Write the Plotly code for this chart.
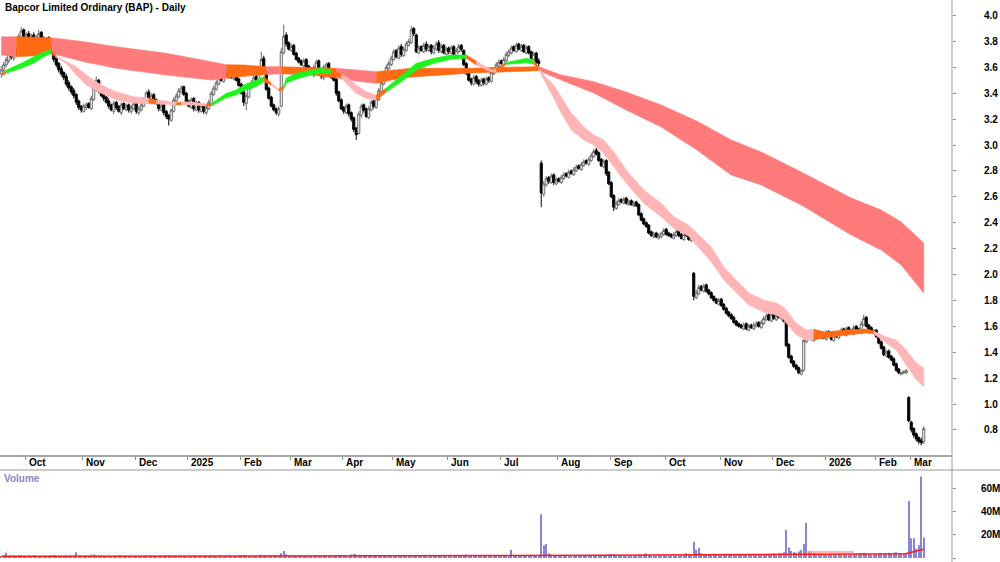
import plotly.graph_objects as go

# ---------------- data ----------------
title_text = "Bapcor Limited Ordinary (BAP) - Daily"

close_ = [
3.58,3.62,3.66,3.70,3.68,3.72,3.71,3.84,3.88,3.82,
3.85,3.80,3.84,3.78,3.83,3.86,3.81,3.79,3.82,3.76,
3.72,3.66,3.62,3.58,3.55,3.52,3.47,3.44,3.41,3.38,
3.33,3.29,3.27,3.30,3.31,3.29,3.36,3.44,3.50,3.42,
3.38,3.36,3.33,3.30,3.27,3.32,3.29,3.26,3.31,3.28,
3.30,3.27,3.29,3.32,3.26,3.28,3.31,3.35,3.40,3.36,
3.38,3.34,3.32,3.28,3.30,3.25,3.22,3.20,3.27,3.35,
3.38,3.42,3.44,3.39,3.33,3.30,3.35,3.28,3.32,3.27,
3.30,3.26,3.29,3.33,3.40,3.44,3.48,3.52,3.50,3.55,
3.53,3.57,3.52,3.55,3.50,3.46,3.40,3.33,3.38,3.45,
3.48,3.52,3.50,3.56,3.66,3.58,3.43,3.36,3.30,3.27,
3.25,3.28,3.72,3.84,3.78,3.74,3.76,3.70,3.66,3.64,
3.62,3.65,3.60,3.58,3.55,3.60,3.64,3.57,3.53,3.60,
3.62,3.56,3.52,3.50,3.40,3.34,3.28,3.26,3.30,3.24,
3.20,3.12,3.08,3.24,3.30,3.27,3.22,3.28,3.33,3.30,
3.36,3.42,3.48,3.55,3.60,3.63,3.67,3.72,3.68,3.75,
3.70,3.74,3.78,3.80,3.89,3.86,3.72,3.75,3.73,3.77,
3.74,3.76,3.72,3.75,3.78,3.73,3.76,3.71,3.74,3.72,
3.75,3.70,3.73,3.76,3.74,3.62,3.55,3.50,3.48,3.52,
3.49,3.47,3.50,3.48,3.51,3.50,3.56,3.58,3.62,3.64,
3.63,3.66,3.70,3.72,3.75,3.73,3.77,3.74,3.76,3.72,
3.75,3.71,3.67,3.70,3.64,3.63,2.63,2.70,2.74,2.72,
2.76,2.71,2.73,2.72,2.75,2.77,2.76,2.79,2.78,2.81,
2.83,2.82,2.85,2.87,2.86,2.89,2.92,2.95,2.93,2.88,
2.84,2.87,2.78,2.70,2.60,2.52,2.55,2.57,2.56,2.58,
2.55,2.56,2.54,2.55,2.53,2.46,2.42,2.39,2.37,2.32,
2.30,2.31,2.29,2.30,2.32,2.34,2.31,2.30,2.29,2.31,
2.33,2.30,2.28,2.31,2.30,2.27,2.29,1.83,1.86,1.90,
1.88,1.91,1.87,1.85,1.82,1.80,1.78,1.80,1.76,1.73,
1.70,1.68,1.66,1.63,1.61,1.60,1.59,1.61,1.58,1.60,
1.59,1.61,1.62,1.60,1.63,1.66,1.68,1.65,1.69,1.66,
1.68,1.67,1.70,1.64,1.45,1.36,1.32,1.29,1.27,1.24,
1.26,1.49,1.51,1.53,1.50,1.52,1.55,1.52,1.54,1.51,
1.55,1.53,1.50,1.54,1.52,1.55,1.57,1.54,1.58,1.56,
1.55,1.59,1.57,1.56,1.62,1.66,1.60,1.58,1.56,1.57,
1.52,1.47,1.43,1.38,1.40,1.36,1.34,1.30,1.26,1.24,
1.24,1.25,1.26,0.87,0.80,0.76,0.73,0.71,0.70,0.81]

open_ = [
3.55,3.58,3.62,3.65,3.71,3.67,3.73,3.72,3.83,3.89,
3.81,3.86,3.79,3.85,3.77,3.82,3.87,3.82,3.78,3.83,
3.77,3.73,3.67,3.63,3.59,3.56,3.53,3.48,3.45,3.42,
3.39,3.34,3.30,3.26,3.29,3.32,3.28,3.35,3.43,3.50,
3.43,3.39,3.37,3.34,3.31,3.26,3.33,3.30,3.25,3.32,
3.27,3.31,3.26,3.28,3.33,3.25,3.27,3.30,3.34,3.41,
3.35,3.39,3.35,3.33,3.27,3.31,3.26,3.23,3.19,3.26,
3.34,3.37,3.41,3.45,3.40,3.34,3.29,3.36,3.27,3.33,
3.26,3.31,3.25,3.28,3.32,3.39,3.43,3.47,3.53,3.49,
3.56,3.52,3.58,3.51,3.56,3.51,3.47,3.41,3.32,3.37,
3.44,3.47,3.53,3.49,3.55,3.67,3.57,3.44,3.37,3.31,
3.28,3.24,3.30,3.71,3.85,3.79,3.73,3.77,3.71,3.67,
3.65,3.61,3.66,3.61,3.59,3.54,3.59,3.65,3.58,3.52,
3.59,3.63,3.57,3.53,3.51,3.41,3.35,3.29,3.25,3.31,
3.25,3.21,3.13,3.09,3.23,3.31,3.28,3.21,3.27,3.34,
3.29,3.35,3.41,3.47,3.54,3.59,3.62,3.66,3.73,3.67,
3.76,3.69,3.73,3.77,3.79,3.90,3.85,3.71,3.76,3.72,
3.78,3.73,3.77,3.71,3.74,3.79,3.72,3.77,3.70,3.75,
3.71,3.76,3.69,3.72,3.77,3.73,3.63,3.56,3.51,3.47,
3.53,3.50,3.46,3.51,3.47,3.52,3.49,3.55,3.57,3.61,
3.65,3.62,3.65,3.69,3.71,3.76,3.72,3.78,3.73,3.77,
3.71,3.76,3.72,3.66,3.71,3.65,2.86,2.62,2.69,2.75,
2.71,2.77,2.70,2.74,2.71,2.74,2.78,2.75,2.80,2.77,
2.80,2.84,2.81,2.84,2.88,2.85,2.88,2.91,2.96,2.94,
2.89,2.83,2.88,2.79,2.71,2.61,2.51,2.54,2.58,2.55,
2.59,2.54,2.57,2.53,2.56,2.54,2.47,2.43,2.40,2.38,
2.33,2.29,2.32,2.28,2.29,2.31,2.35,2.32,2.31,2.28,
2.30,2.34,2.31,2.27,2.32,2.31,2.26,2.01,1.82,1.85,
1.91,1.87,1.92,1.88,1.86,1.83,1.81,1.77,1.81,1.77,
1.74,1.71,1.69,1.67,1.64,1.62,1.61,1.58,1.62,1.57,
1.61,1.58,1.60,1.63,1.59,1.62,1.65,1.69,1.64,1.70,
1.65,1.69,1.66,1.71,1.63,1.46,1.37,1.33,1.30,1.28,
1.23,1.26,1.48,1.50,1.54,1.49,1.51,1.56,1.51,1.55,
1.50,1.56,1.54,1.49,1.55,1.51,1.54,1.58,1.53,1.59,
1.57,1.54,1.60,1.58,1.55,1.61,1.67,1.61,1.59,1.55,
1.57,1.53,1.48,1.44,1.37,1.41,1.37,1.35,1.31,1.27,
1.23,1.24,1.24,1.05,0.86,0.81,0.77,0.74,0.72,0.71]

high_ = [
3.61,3.64,3.68,3.72,3.73,3.74,3.75,3.86,3.91,3.90,
3.87,3.88,3.86,3.87,3.85,3.89,3.88,3.84,3.83,3.84,
3.79,3.74,3.69,3.64,3.61,3.57,3.55,3.50,3.46,3.44,
3.40,3.35,3.31,3.32,3.33,3.33,3.38,3.46,3.53,3.51,
3.44,3.40,3.38,3.36,3.32,3.34,3.34,3.31,3.33,3.33,
3.32,3.32,3.31,3.34,3.34,3.30,3.33,3.37,3.42,3.43,
3.40,3.40,3.36,3.34,3.32,3.32,3.27,3.24,3.28,3.37,
3.40,3.44,3.46,3.46,3.41,3.35,3.37,3.37,3.34,3.34,
3.32,3.32,3.31,3.35,3.42,3.46,3.50,3.54,3.54,3.57,
3.57,3.59,3.59,3.57,3.57,3.52,3.48,3.42,3.40,3.47,
3.50,3.54,3.54,3.58,3.72,3.69,3.58,3.45,3.38,3.32,
3.29,3.30,3.75,3.93,3.87,3.80,3.78,3.78,3.72,3.68,
3.66,3.67,3.67,3.62,3.60,3.62,3.66,3.66,3.59,3.62,
3.64,3.64,3.58,3.54,3.52,3.42,3.36,3.30,3.32,3.32,
3.26,3.22,3.14,3.26,3.32,3.32,3.29,3.30,3.35,3.35,
3.38,3.44,3.50,3.57,3.62,3.65,3.69,3.74,3.74,3.77,
3.78,3.76,3.80,3.82,3.92,3.91,3.86,3.77,3.77,3.79,
3.80,3.78,3.78,3.77,3.80,3.81,3.78,3.78,3.76,3.76,
3.77,3.77,3.75,3.78,3.78,3.74,3.64,3.57,3.52,3.54,
3.54,3.51,3.52,3.52,3.53,3.53,3.58,3.60,3.64,3.66,
3.66,3.68,3.72,3.74,3.77,3.77,3.79,3.79,3.78,3.78,
3.77,3.77,3.73,3.72,3.72,3.67,2.88,2.72,2.76,2.76,
2.78,2.78,2.75,2.75,2.77,2.79,2.79,2.81,2.81,2.83,
2.85,2.85,2.87,2.89,2.89,2.91,2.94,2.97,2.98,2.95,
2.90,2.89,2.89,2.80,2.72,2.62,2.57,2.59,2.59,2.60,
2.60,2.58,2.58,2.57,2.57,2.55,2.48,2.44,2.41,2.39,
2.34,2.33,2.33,2.32,2.33,2.36,2.36,2.33,2.32,2.33,
2.35,2.35,2.32,2.33,2.33,2.32,2.31,2.02,1.88,1.92,
1.92,1.93,1.93,1.89,1.87,1.84,1.82,1.82,1.82,1.78,
1.75,1.72,1.70,1.68,1.65,1.63,1.62,1.63,1.63,1.62,
1.62,1.63,1.64,1.64,1.65,1.68,1.70,1.70,1.71,1.71,
1.70,1.70,1.72,1.72,1.64,1.47,1.38,1.34,1.31,1.29,
1.27,1.50,1.53,1.55,1.55,1.54,1.56,1.57,1.56,1.56,
1.57,1.57,1.55,1.56,1.56,1.57,1.59,1.59,1.60,1.60,
1.58,1.61,1.61,1.59,1.64,1.69,1.68,1.62,1.60,1.58,
1.58,1.54,1.49,1.45,1.42,1.42,1.38,1.36,1.32,1.28,
1.25,1.26,1.27,1.06,0.87,0.82,0.78,0.75,0.74,0.83]

low_ = [
3.52,3.56,3.60,3.63,3.66,3.65,3.69,3.70,3.81,3.80,
3.79,3.78,3.77,3.76,3.75,3.80,3.79,3.77,3.76,3.74,
3.70,3.64,3.60,3.56,3.53,3.50,3.45,3.42,3.39,3.36,
3.31,3.27,3.25,3.25,3.27,3.28,3.27,3.34,3.41,3.40,
3.37,3.34,3.32,3.28,3.26,3.24,3.27,3.25,3.23,3.27,
3.26,3.25,3.24,3.27,3.24,3.23,3.26,3.29,3.33,3.35,
3.34,3.33,3.31,3.26,3.26,3.23,3.20,3.15,3.18,3.25,
3.33,3.36,3.40,3.38,3.32,3.29,3.28,3.26,3.26,3.25,
3.25,3.24,3.23,3.27,3.31,3.38,3.42,3.46,3.49,3.48,
3.52,3.51,3.51,3.50,3.49,3.45,3.39,3.30,3.27,3.36,
3.43,3.46,3.49,3.48,3.54,3.57,3.42,3.35,3.29,3.26,
3.23,3.22,3.29,3.70,3.76,3.73,3.72,3.69,3.65,3.63,
3.61,3.60,3.59,3.57,3.54,3.52,3.58,3.56,3.51,3.50,
3.58,3.55,3.51,3.49,3.38,3.33,3.27,3.24,3.24,3.22,
3.18,3.10,3.04,3.08,3.21,3.25,3.21,3.20,3.26,3.28,
3.28,3.34,3.40,3.46,3.53,3.58,3.61,3.65,3.67,3.66,
3.68,3.68,3.72,3.76,3.78,3.84,3.71,3.70,3.72,3.71,
3.72,3.72,3.70,3.70,3.73,3.71,3.71,3.70,3.69,3.70,
3.70,3.69,3.68,3.71,3.72,3.61,3.54,3.49,3.46,3.46,
3.47,3.45,3.45,3.46,3.46,3.48,3.48,3.54,3.56,3.60,
3.62,3.61,3.64,3.68,3.70,3.72,3.71,3.73,3.72,3.71,
3.70,3.70,3.66,3.65,3.62,3.61,2.52,2.60,2.68,2.70,
2.70,2.69,2.69,2.71,2.70,2.73,2.75,2.74,2.77,2.76,
2.79,2.81,2.80,2.83,2.85,2.84,2.87,2.90,2.92,2.87,
2.83,2.82,2.76,2.69,2.59,2.49,2.50,2.53,2.55,2.54,
2.54,2.53,2.53,2.52,2.52,2.45,2.41,2.38,2.36,2.31,
2.29,2.28,2.28,2.27,2.28,2.30,2.30,2.29,2.28,2.27,
2.29,2.29,2.27,2.26,2.29,2.26,2.25,1.80,1.81,1.84,
1.87,1.86,1.86,1.84,1.81,1.79,1.77,1.76,1.75,1.72,
1.69,1.67,1.65,1.62,1.60,1.59,1.58,1.57,1.57,1.56,
1.58,1.57,1.59,1.59,1.58,1.61,1.64,1.64,1.63,1.65,
1.64,1.66,1.65,1.63,1.44,1.35,1.31,1.28,1.26,1.23,
1.22,1.25,1.47,1.49,1.49,1.48,1.50,1.51,1.50,1.50,
1.49,1.52,1.49,1.48,1.51,1.50,1.53,1.53,1.52,1.55,
1.54,1.53,1.56,1.55,1.54,1.60,1.59,1.57,1.55,1.54,
1.51,1.46,1.42,1.37,1.36,1.35,1.33,1.29,1.25,1.23,
1.22,1.23,1.23,0.86,0.78,0.74,0.71,0.69,0.68,0.69]

volume_m = [
1.8,2.1,4.5,1.6,1.9,2.2,1.7,2.4,2.0,1.5,
1.6,1.9,1.4,2.3,1.7,1.5,1.8,2.0,1.3,1.6,
2.2,2.6,1.9,1.7,2.0,1.8,2.3,1.6,1.9,2.1,
5.0,1.8,1.5,1.7,2.0,1.6,2.8,3.0,2.2,1.9,
1.5,1.7,1.4,1.8,1.6,1.3,1.5,1.9,1.4,1.6,
1.2,1.5,1.7,1.3,1.6,1.4,1.2,1.8,2.1,1.5,
1.3,1.6,1.4,1.5,1.2,1.7,1.9,2.4,1.8,2.0,
1.6,1.4,1.5,1.3,1.7,1.2,1.1,1.4,1.3,1.0,
1.2,1.5,1.3,1.6,2.0,1.8,1.7,1.9,1.5,1.6,
1.4,1.8,1.5,1.7,1.6,1.9,2.2,2.6,2.0,1.8,
1.5,1.7,1.6,1.9,2.8,2.3,2.5,2.1,2.4,1.9,
2.2,2.0,4.0,6.0,3.2,2.4,2.0,1.9,1.7,1.6,
1.8,1.5,1.7,1.6,1.9,1.4,1.6,1.8,1.5,1.7,
1.6,1.9,1.7,1.8,2.6,2.3,2.0,2.2,2.4,2.6,
2.9,3.4,3.1,2.7,2.2,1.9,2.0,1.7,1.8,1.6,
1.9,2.1,2.0,2.3,1.8,1.7,1.9,2.0,1.6,1.8,
1.5,1.7,1.9,1.6,2.5,2.0,1.8,1.7,1.5,1.6,
1.4,1.6,1.5,1.7,1.8,1.4,1.6,1.5,1.3,1.7,
1.5,1.6,1.4,1.8,1.6,2.6,2.9,2.0,1.8,1.6,
1.5,1.7,1.4,1.6,1.5,1.3,1.6,1.8,1.7,1.9,
1.6,1.8,2.0,2.2,7.0,1.9,1.7,1.8,1.6,1.5,
1.7,1.6,1.9,2.0,2.2,2.4,37.5,11.0,12.0,4.0,
3.0,2.6,2.4,2.2,2.0,2.3,1.9,2.1,1.8,2.0,
1.7,1.9,2.1,1.8,2.0,2.2,2.4,2.6,2.3,2.8,
2.5,2.2,2.7,3.0,3.5,3.2,2.6,2.3,2.1,2.4,
2.0,1.9,2.2,2.0,2.3,2.8,2.6,3.0,4.0,2.7,
2.4,2.2,2.0,2.3,2.1,2.5,2.2,2.0,2.4,2.1,
2.3,2.0,2.2,2.4,4.0,2.6,2.9,14.0,7.0,8.5,
4.0,3.2,3.0,2.8,3.1,2.7,2.9,2.6,3.0,2.8,
2.6,3.0,2.7,2.9,2.5,2.8,2.6,3.1,2.7,2.9,
2.5,2.7,2.9,2.6,3.0,3.2,2.8,3.4,3.6,4.0,
3.5,3.8,4.2,5.0,24.0,9.0,6.0,5.0,4.5,5.5,
7.0,12.0,30.3,6.0,4.5,4.0,3.6,3.8,3.3,3.5,
3.2,3.0,3.4,3.1,2.9,3.3,3.0,2.8,3.2,3.0,
2.7,3.1,2.9,3.3,4.0,4.5,3.6,3.2,3.0,2.9,
3.4,3.8,4.2,3.6,3.9,4.4,4.1,4.6,5.0,4.3,
3.8,4.0,4.5,49.0,17.0,17.0,8.0,11.0,70.0,17.5]

# volume average line, read at a few bars (millions)
vol_ma_bar = [0, 60, 120, 180, 215, 240, 280, 300, 321, 342, 362, 364, 366, 369]
vol_ma_m   = [1.4, 1.5, 1.6, 1.6, 1.7, 2.3, 2.8, 3.0, 3.3, 3.4, 3.6, 5.0, 5.8, 7.5]
# lighter raised average segment (Dec-Jan)
vol_ma2_bar = [322, 341]
vol_ma2_m   = [5.2, 5.2]

# long-term moving-average band (edges), bar index
long_bar = [0, 6, 14, 20, 33, 46, 66, 84, 90, 97, 106, 112, 124, 134, 144, 150, 157, 164,
            177, 188, 200, 215, 224, 237, 250, 264, 278, 292, 304, 320, 340, 352, 360, 369]
long_top = [3.836, 3.836, 3.832, 3.829, 3.798, 3.759, 3.708, 3.643, 3.620, 3.618, 3.605, 3.605,
            3.595, 3.592, 3.574, 3.566, 3.579, 3.592, 3.592, 3.592, 3.600, 3.605, 3.541, 3.489,
            3.409, 3.309, 3.187, 3.039, 2.946, 2.792, 2.591, 2.498, 2.405, 2.243]
long_bot = [3.695, 3.682, 3.690, 3.708, 3.643, 3.592, 3.541, 3.502, 3.515, 3.530, 3.545, 3.550,
            3.541, 3.517, 3.489, 3.476, 3.505, 3.525, 3.541, 3.556, 3.566, 3.574, 3.502, 3.402,
            3.270, 3.139, 2.965, 2.768, 2.691, 2.537, 2.305, 2.189, 2.073, 1.857]
long_state = ["r", "o", "o", "r", "r", "r", "r", "r", "o", "o", "r", "o", "o", "r", "r", "o", "o", "o",
              "o", "o", "o", "r", "r", "r", "r", "r", "r", "r", "r", "r", "r", "r", "r", "r"]

# short-term moving-average band
short_bar = [0, 2, 8, 13, 17, 20, 22, 26, 30, 34, 40, 46, 53, 59, 62, 66, 70, 72, 76, 82, 84, 90,
             94, 97, 102, 105, 108, 111, 113, 114, 118, 124, 128, 132, 136, 138, 142, 146, 150,
             154, 161, 166, 173, 180, 186, 190, 196, 198, 202, 206, 210, 213, 215, 217, 221, 224,
             228, 233, 237, 241, 245, 250, 257, 264, 269, 275, 284, 289, 294, 299, 305, 310, 313,
             318, 322, 325, 329, 338, 346, 349, 354, 358, 362, 366, 369]
short_top = [3.545, 3.579, 3.631, 3.682, 3.720, 3.734, 3.685, 3.643, 3.605, 3.541, 3.463, 3.412,
             3.373, 3.363, 3.347, 3.340, 3.324, 3.332, 3.334, 3.317, 3.320, 3.399, 3.425, 3.463,
             3.502, 3.527, 3.479, 3.432, 3.456, 3.517, 3.554, 3.579, 3.592, 3.579, 3.548, 3.527,
             3.463, 3.412, 3.386, 3.440, 3.554, 3.631, 3.669, 3.695, 3.695, 3.649, 3.579, 3.587,
             3.637, 3.651, 3.669, 3.656, 3.600, 3.541, 3.463, 3.373, 3.247, 3.141, 3.077, 3.039,
             2.948, 2.807, 2.653, 2.550, 2.446, 2.380, 2.212, 2.058, 1.958, 1.857, 1.803, 1.780,
             1.749, 1.625, 1.571, 1.579, 1.556, 1.571, 1.579, 1.564, 1.517, 1.494, 1.417, 1.317,
             1.278]
short_bot = [3.530, 3.554, 3.592, 3.631, 3.682, 3.708, 3.675, 3.631, 3.541, 3.463, 3.399, 3.347,
             3.322, 3.320, 3.317, 3.314, 3.309, 3.309, 3.309, 3.301, 3.301, 3.365, 3.386, 3.419,
             3.450, 3.489, 3.463, 3.417, 3.432, 3.479, 3.507, 3.541, 3.554, 3.554, 3.517, 3.476,
             3.399, 3.361, 3.347, 3.409, 3.502, 3.579, 3.631, 3.662, 3.669, 3.618, 3.564, 3.566,
             3.622, 3.631, 3.636, 3.625, 3.580, 3.502, 3.363, 3.245, 3.116, 3.039, 3.000, 2.936,
             2.832, 2.704, 2.550, 2.446, 2.357, 2.295, 2.097, 1.958, 1.857, 1.764, 1.710, 1.687,
             1.649, 1.533, 1.494, 1.494, 1.510, 1.533, 1.548, 1.541, 1.471, 1.417, 1.301, 1.189,
             1.131]
short_state = ["o", "g", "g", "g", "g", "o", "p", "p", "p", "p", "p", "p", "p", "o", "p", "p", "o",
               "p", "p", "o", "g", "g", "g", "g", "g", "o", "p", "o", "g", "g", "g", "g", "g", "o",
               "p", "p", "p", "p", "o", "g", "g", "g", "g", "g", "o", "p", "p", "o", "g", "g", "g",
               "o", "p", "p", "p", "p", "p", "p", "p", "p", "p", "p", "p", "p", "p", "p", "p", "p",
               "p", "p", "p", "p", "p", "p", "p", "o", "o", "o", "o", "p", "p", "p", "p", "p", "p"]

price_ticks = [0.8, 1.0, 1.2, 1.4, 1.6, 1.8, 2.0, 2.2, 2.4, 2.6, 2.8, 3.0, 3.2, 3.4, 3.6, 3.8, 4.0]
volume_ticks_m = [0, 20, 40, 60]
volume_tick_text = ["0", "20M", "40M", "60M"]

# first bar of each month (bar index) and its label
month_first_bar = [10, 33, 54, 75, 96, 116, 137, 157, 179, 200, 223, 244, 266, 288, 309, 330, 350, 364]
month_labels = ["Oct", "Nov", "Dec", "2025", "Feb", "Mar", "Apr", "May", "Jun", "Jul",
                "Aug", "Sep", "Oct", "Nov", "Dec", "2026", "Feb", "Mar"]

# ---------------- styling ----------------
W, H = 1000, 562
PLOT_RIGHT = 952          # px where the right axis sits
PRICE_BOTTOM = 455        # px bottom of price panel
VOL_TOP = 470             # px top of volume panel
BAR_PX = 2.5              # px per bar

COLORS = {"r": "#ff7b7b", "o": "#ff6a14", "g": "#1ff21f", "p": "#ffb5b5"}
FONT = "Liberation Sans, Arial, sans-serif"

n_bars = len(close_)
bars = list(range(n_bars))

fig = go.Figure()


def add_band(xs, top, bot, states):
    k = 0
    n = len(xs)
    while k < n - 1:
        s = states[k]
        m = k
        while m < n - 1 and states[m] == s:
            m += 1
        px = xs[k:m + 1] + xs[k:m + 1][::-1]
        py = top[k:m + 1] + bot[k:m + 1][::-1]
        fig.add_trace(go.Scatter(
            x=px, y=py, mode="lines", fill="toself", fillcolor=COLORS[s],
            line=dict(width=0.6, color=COLORS[s]), hoverinfo="skip", showlegend=False,
            xaxis="x", yaxis="y"))
        k = m


add_band(long_bar, long_top, long_bot, long_state)
add_band(short_bar, short_top, short_bot, short_state)

fig.add_trace(go.Candlestick(
    x=bars, open=open_, high=high_, low=low_, close=close_,
    increasing=dict(line=dict(color="#6a6a6a", width=1), fillcolor="#ffffff"),
    decreasing=dict(line=dict(color="#000000", width=1), fillcolor="#000000"),
    whiskerwidth=0, hoverinfo="skip", showlegend=False, xaxis="x", yaxis="y"))

fig.add_trace(go.Bar(
    x=bars, y=[v * 1e6 for v in volume_m], width=0.55,
    marker=dict(color="#8686d4", line=dict(width=0)),
    hoverinfo="skip", showlegend=False, xaxis="x2", yaxis="y2"))

fig.add_trace(go.Scatter(
    x=vol_ma2_bar, y=[v * 1e6 for v in vol_ma2_m], mode="lines",
    line=dict(color="#ff9c9c", width=1.5), hoverinfo="skip", showlegend=False,
    xaxis="x2", yaxis="y2"))

fig.add_trace(go.Scatter(
    x=vol_ma_bar, y=[v * 1e6 for v in vol_ma_m], mode="lines",
    line=dict(color="#ff1a1a", width=1.5), hoverinfo="skip", showlegend=False,
    xaxis="x2", yaxis="y2"))

x_range = [-0.5, PLOT_RIGHT / BAR_PX - 0.5]
price_px_per_unit = 129.5
price_y_at_4 = 15.5
price_range = [4.0 - (PRICE_BOTTOM - price_y_at_4) / price_px_per_unit,
               4.0 + price_y_at_4 / price_px_per_unit]
vol_px_per_m = 23.3 / 20.0
vol_zero_px = 558
vol_range = [-(H - vol_zero_px) / vol_px_per_m * 1e6, (vol_zero_px - VOL_TOP) / vol_px_per_m * 1e6]

month_bounds = [b - 0.5 for b in month_first_bar]
TICKFONT = dict(family=FONT, size=10, color="black", weight="bold")

fig.update_layout(
    width=W, height=H, margin=dict(l=0, r=W - PLOT_RIGHT, t=0, b=0),
    paper_bgcolor="white", plot_bgcolor="white",
    boxgap=0.12, boxgroupgap=0.05,
    font=dict(family=FONT, color="black"),
    xaxis=dict(domain=[0, 1], range=x_range, anchor="y", showgrid=False, zeroline=False,
               showline=True, linecolor="#a6a6a6", linewidth=2, ticks="outside", ticklen=3,
               tickcolor="#8c8c8c", tickvals=month_bounds, showticklabels=False,
               rangeslider=dict(visible=False), fixedrange=True),
    xaxis2=dict(domain=[0, 1], range=x_range, anchor="y2", matches="x", showgrid=False,
                zeroline=False, showline=False, showticklabels=False, ticks=""),
    yaxis=dict(domain=[1 - PRICE_BOTTOM / H, 1], range=price_range, side="right", anchor="x",
               showgrid=False, zeroline=False, showline=False, ticks="outside", ticklen=3,
               tickcolor="#8c8c8c", tickvals=price_ticks,
               ticktext=[f"{t:.1f}" for t in price_ticks], ticklabelstandoff=26,
               tickfont=TICKFONT),
    yaxis2=dict(domain=[0, 1 - VOL_TOP / H], range=vol_range, side="right", anchor="x2",
                showgrid=False, zeroline=False, showline=False, ticks="outside", ticklen=3,
                tickcolor="#8c8c8c", tickvals=[v * 1e6 for v in volume_ticks_m],
                ticktext=volume_tick_text, ticklabelstandoff=23,
                tickfont=TICKFONT),
)

shapes = [
    dict(type="line", xref="paper", yref="paper", x0=1, x1=1, y0=0, y1=1,
         line=dict(color="#9a9a9a", width=1)),
    dict(type="line", xref="paper", yref="paper", x0=0, x1=W / PLOT_RIGHT,
         y0=1 - VOL_TOP / H, y1=1 - VOL_TOP / H, line=dict(color="#9a9a9a", width=1)),
]
fig.update_layout(shapes=shapes)

annotations = [
    dict(text=f"<b>{title_text}</b>", xref="paper", yref="paper", x=3 / PLOT_RIGHT, y=1 - 8 / H,
         xanchor="left", yanchor="middle", showarrow=False,
         font=dict(family=FONT, size=10, color="black")),
    dict(text="<b>Volume</b>", xref="paper", yref="paper", x=2 / PLOT_RIGHT, y=1 - 478 / H,
         xanchor="left", yanchor="middle", showarrow=False,
         font=dict(family=FONT, size=10, color="#8a86c6")),
]
for b, lab in zip(month_bounds, month_labels):
    annotations.append(dict(text=f"<b>{lab}</b>", xref="x", yref="paper", x=b, xshift=1.5,
                            y=1 - 462.5 / H, xanchor="left", yanchor="middle", showarrow=False,
                            font=dict(family=FONT, size=10, color="black")))
fig.update_layout(annotations=annotations)

fig.write_html("out.html")
